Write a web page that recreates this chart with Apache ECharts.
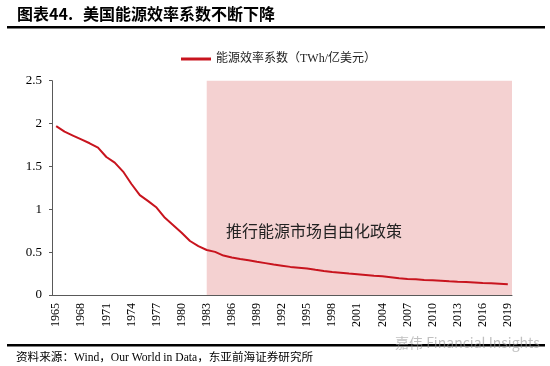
<!DOCTYPE html>
<html><head><meta charset="utf-8">
<script src="https://cdn.jsdelivr.net/npm/echarts@6/dist/echarts.min.js"></script>
<style>html,body{margin:0;padding:0;background:#fff}#c{width:550px;height:366px}</style>
</head><body><div id="c"></div>
<script>
const years = [];
for (let y = 1965; y <= 2019; y++) years.push(String(y));
const seriesName = '能源效率系数（TWh/亿美元）';
const efficiency = [
  1.97, 1.905, 1.86, 1.815, 1.77, 1.72, 1.61, 1.545, 1.44, 1.295,
  1.165, 1.095, 1.02, 0.90, 0.815, 0.727, 0.63, 0.57, 0.525, 0.503,
  0.46, 0.437, 0.42, 0.405, 0.388, 0.372, 0.356, 0.342, 0.328, 0.318,
  0.308, 0.294, 0.281, 0.269, 0.26, 0.25, 0.242, 0.234, 0.225, 0.218,
  0.207, 0.196, 0.188, 0.183, 0.176, 0.172, 0.167, 0.16, 0.155, 0.151,
  0.147, 0.141, 0.137, 0.132, 0.125
];
const shadeStart = '1983';
const annotation = '推行能源市场自由化政策';
const titleNo = '图表44.';
const title = '美国能源效率系数不断下降';
const source = '资料来源：Wind，Our World in Data，东亚前海证券研究所';
const watermark = '嘉伟 Financial Insights';
const yTicks = { min: 0, max: 2.5, interval: 0.5 };

const serif = "'Liberation Serif','Noto Sans CJK SC',serif";
const chart = echarts.init(document.getElementById('c'), null, { renderer: 'canvas' });
chart.setOption({
  animation: false,
  backgroundColor: '#fff',
  textStyle: { fontFamily: serif },
  grid: { left: 52, right: 38, top: 80.7, bottom: 71 },
  legend: {
    left: 176, top: 48,
    itemWidth: 30, itemHeight: 3, itemGap: 4,
    icon: 'rect',
    textStyle: { fontSize: 12, color: '#222', fontFamily: serif },
    data: [seriesName]
  },
  xAxis: {
    type: 'category', data: years, boundaryGap: true,
    axisLine: { lineStyle: { color: '#595959', width: 1 } },
    axisTick: { show: false },
    axisLabel: { interval: 2, rotate: 90, fontSize: 12, color: '#000', margin: 8, fontFamily: serif }
  },
  yAxis: {
    type: 'value', min: yTicks.min, max: yTicks.max, interval: yTicks.interval,
    splitLine: { show: false },
    axisLine: { show: true, lineStyle: { color: '#595959', width: 1 } },
    axisTick: { show: true, length: 3, lineStyle: { color: '#595959' } },
    axisLabel: { fontSize: 13, color: '#000', margin: 10, fontFamily: serif }
  },
  series: [{
    name: seriesName, type: 'line', data: efficiency,
    symbol: 'none', smooth: false,
    lineStyle: { color: '#c8141e', width: 2 },
    itemStyle: { color: '#c8141e' },
    markArea: {
      silent: true,
      itemStyle: { color: '#f4d1d1' },
      data: [[{ xAxis: shadeStart }, {}]]
    },
    z: 3
  }],
  graphic: [
    { type: 'text', left: 17, top: 6, style: { text: titleNo, font: "bold 16px 'Noto Sans CJK SC','Liberation Sans'", fill: '#000' } },
    { type: 'text', left: 83, top: 6, style: { text: title, font: "bold 16px 'Noto Sans CJK SC'", fill: '#000' } },
    { type: 'rect', shape: { x: 7, y: 26, width: 538, height: 2.5 }, style: { fill: '#000' } },
    { type: 'text', left: 226, top: 223, style: { text: annotation, font: "16px 'Noto Sans CJK SC'", fill: '#222' }, z: 10 },
    { type: 'rect', shape: { x: 7, y: 344, width: 538, height: 2.5 }, style: { fill: '#000' } },
    { type: 'text', left: 16, top: 352, style: { text: source, font: "11.6px 'Liberation Serif','Noto Sans CJK SC'", fill: '#000' } },
    { type: 'text', left: 395, top: 336, style: { text: watermark, font: "14px 'Noto Sans CJK SC'", fill: 'rgba(150,150,150,0.6)' }, z: 20 }
  ]
});
</script></body></html>
